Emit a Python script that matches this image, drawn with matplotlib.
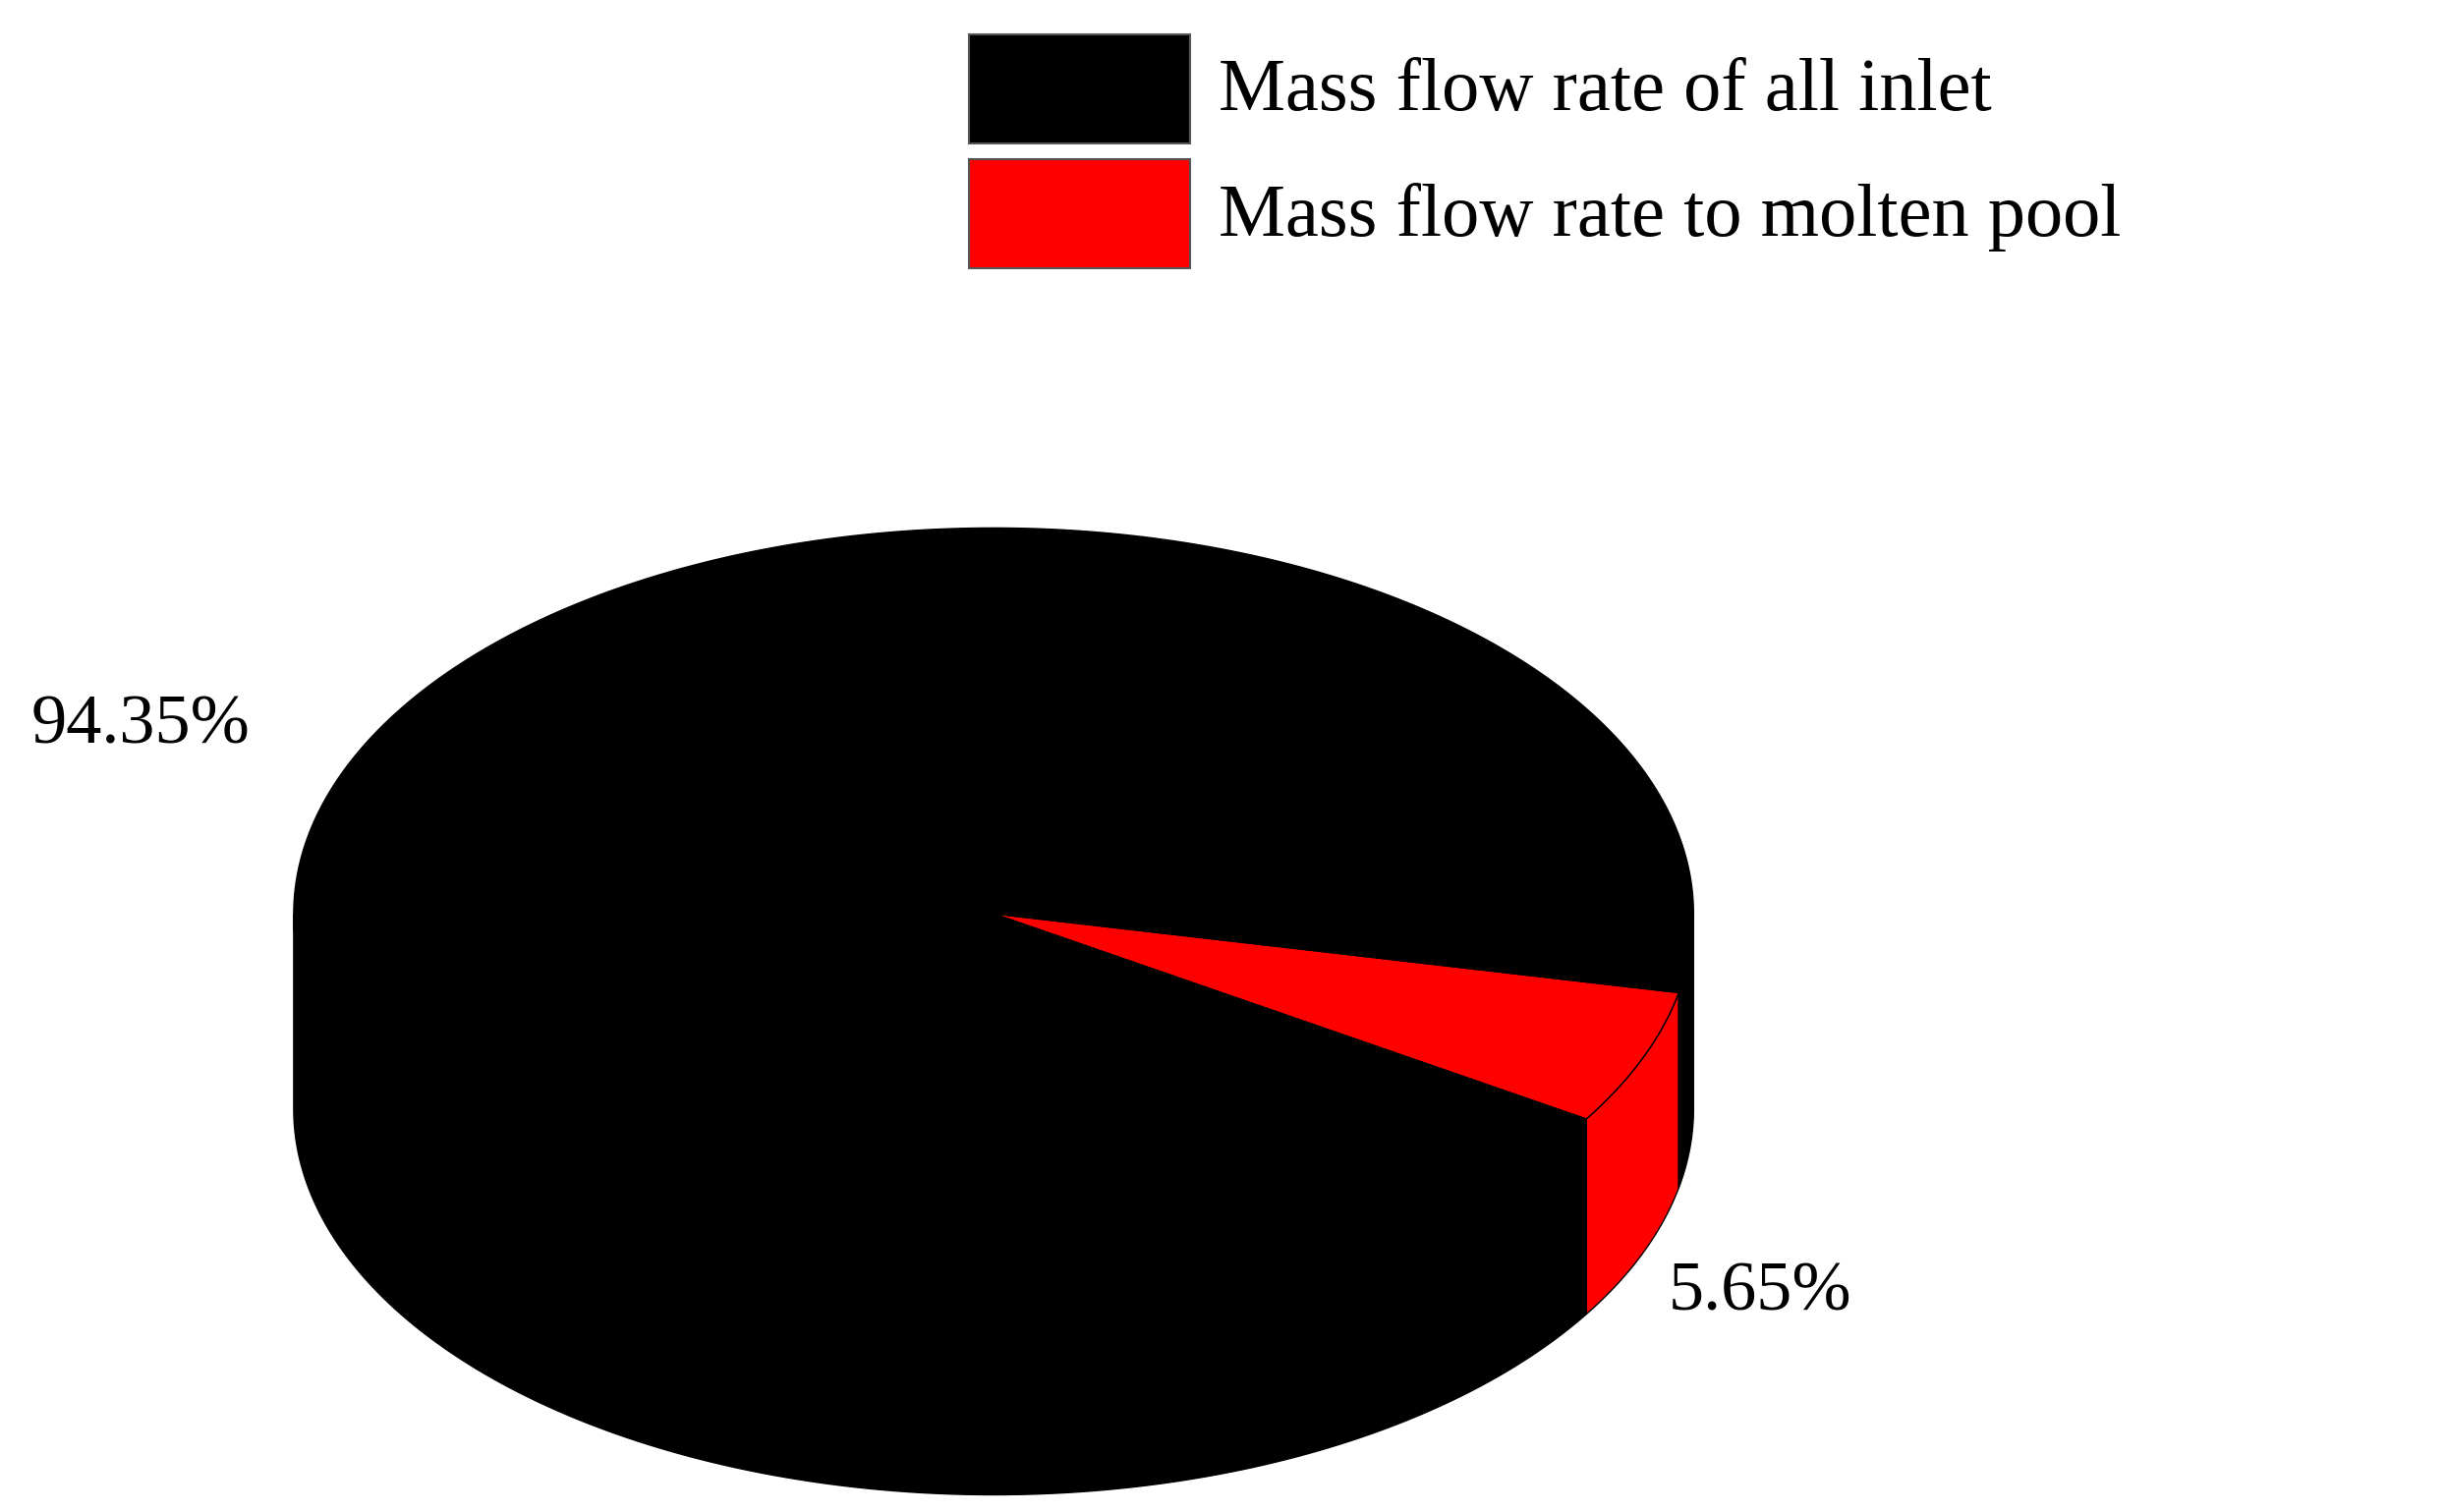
import numpy as np
import matplotlib.pyplot as plt
from matplotlib.patches import Polygon, Rectangle

labels = ["Mass flow rate of all inlet", "Mass flow rate to molten pool"]
values = [94.35, 5.65]
colors = ["black", "red"]

plt.rcParams['font.family'] = ['Liberation Serif', 'DejaVu Serif']
fig = plt.figure(figsize=(24.88, 15.39), dpi=100)
ax = fig.add_axes([0, 0, 1, 1])
ax.set_xlim(0, 1565); ax.set_ylim(968, 0); ax.axis('off')

cx, cy, a, b, depth = 636, 585, 448, 247, 125
start = -11.8  # degrees, red starts here going clockwise
fr = np.array(values) / sum(values) * 360
# angles: red from start down to start-fr[1]; black the rest
spans = {1: (start - fr[1], start), 0: (start - 360, start - fr[1])}

def pt(t, dz=0):
    r = np.radians(t)
    return cx + a*np.cos(r), cy - b*np.sin(r) + dz

# side walls (front half: angles in [-180, 0])
for i, (t0, t1) in spans.items():
    for k in range(-1, 1):
        lo, hi = max(t0, -180 + 360*k), min(t1, 0 + 360*k)
        if hi <= lo:
            continue
        ts = np.linspace(lo, hi, 200)
        top = [pt(t) for t in ts]
        bot = [pt(t, depth) for t in ts[::-1]]
        ax.add_patch(Polygon(top + bot, closed=True, fc=colors[i], ec='black', lw=1, zorder=2))

# top face
for i, (t0, t1) in spans.items():
    ts = np.linspace(t0, t1, 400)
    poly = [(cx, cy)] + [pt(t) for t in ts]
    ax.add_patch(Polygon(poly, closed=True, fc=colors[i], ec='black', lw=1, zorder=3))

# percentage labels
ax.text(20, 465, f"{values[0]:.2f}%", fontsize=52, va='center', ha='left', zorder=5)
ax.text(1068, 828, f"{values[1]:.2f}%", fontsize=52, va='center', ha='left', zorder=5)

# legend
for i, (lab, c) in enumerate(zip(labels, colors)):
    y0 = 22 + 80*i
    ax.add_patch(Rectangle((620, y0), 142, 70, fc=c, ec='#555555', lw=1.5, zorder=5))
    ax.text(780, y0 + 37, lab, fontsize=55, va='center', ha='left', zorder=5)

fig.savefig("out.png", dpi=100)
